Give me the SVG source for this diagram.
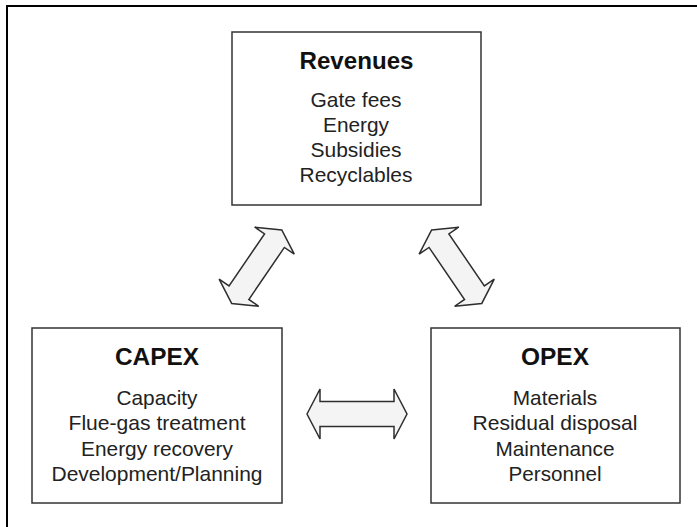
<svg xmlns="http://www.w3.org/2000/svg" xmlns:xlink="http://www.w3.org/1999/xlink" width="697" height="527" viewBox="0 0 697 527">
<style>
.box{fill:#ffffff;stroke:#333333;stroke-width:1.5}
.ttl{font-family:"Liberation Sans",Arial,Helvetica,sans-serif;font-weight:bold;font-size:24.5px;fill:#111111;text-anchor:middle}
.itm{font-family:"Liberation Sans",Arial,Helvetica,sans-serif;font-size:21px;fill:#222222;text-anchor:middle}
.arr{fill:#f4f4f4;stroke:#2e2e2e;stroke-width:1.5;stroke-linejoin:miter}
</style>
<defs>
<path id="harrow" d="M-50,0 L-37,-25 L-37,-12.5 L37,-12.5 L37,-25 L50,0 L37,25 L37,12.5 L-37,12.5 L-37,25 Z"/>
<path id="darrow" d="M-44.5,0 L-31.5,-24 L-31.5,-12 L31.5,-12 L31.5,-24 L44.5,0 L31.5,24 L31.5,12 L-31.5,12 L-31.5,24 Z"/>
</defs>
<rect width="697" height="527" fill="#ffffff"/>
<path d="M7,527 V6 H697" fill="none" stroke="#000000" stroke-width="2"/>
<g id="revenues">
<rect class="box" x="232" y="32" width="249" height="173"/>
<text class="ttl" x="356.5" y="69" textLength="114" lengthAdjust="spacingAndGlyphs">Revenues</text>
<text class="itm" x="356" y="107" textLength="91" lengthAdjust="spacingAndGlyphs">Gate fees</text>
<text class="itm" x="356" y="132" textLength="66" lengthAdjust="spacingAndGlyphs">Energy</text>
<text class="itm" x="356" y="157" textLength="91" lengthAdjust="spacingAndGlyphs">Subsidies</text>
<text class="itm" x="356" y="182" textLength="113" lengthAdjust="spacingAndGlyphs">Recyclables</text>
</g>
<g id="capex">
<rect class="box" x="32" y="328" width="250" height="175"/>
<text class="ttl" x="157" y="365" textLength="84" lengthAdjust="spacingAndGlyphs">CAPEX</text>
<text class="itm" x="157" y="405" textLength="81" lengthAdjust="spacingAndGlyphs">Capacity</text>
<text class="itm" x="157" y="430" textLength="177" lengthAdjust="spacingAndGlyphs">Flue-gas treatment</text>
<text class="itm" x="157" y="455.5" textLength="152" lengthAdjust="spacingAndGlyphs">Energy recovery</text>
<text class="itm" x="157" y="481" textLength="211" lengthAdjust="spacingAndGlyphs">Development/Planning</text>
</g>
<g id="opex">
<rect class="box" x="431" y="328" width="249" height="175"/>
<text class="ttl" x="555" y="365" textLength="68" lengthAdjust="spacingAndGlyphs">OPEX</text>
<text class="itm" x="555" y="405" textLength="84.5" lengthAdjust="spacingAndGlyphs">Materials</text>
<text class="itm" x="555" y="430" textLength="165" lengthAdjust="spacingAndGlyphs">Residual disposal</text>
<text class="itm" x="555" y="455.5" textLength="119" lengthAdjust="spacingAndGlyphs">Maintenance</text>
<text class="itm" x="555" y="481" textLength="93" lengthAdjust="spacingAndGlyphs">Personnel</text>
</g>
<g id="connectors">
<use class="arr" xlink:href="#darrow" href="#darrow" transform="translate(256.7,266.7) rotate(-55.7)"/>
<use class="arr" xlink:href="#darrow" href="#darrow" transform="translate(456.7,266.7) rotate(55.7)"/>
<use class="arr" xlink:href="#harrow" href="#harrow" transform="translate(357,414)"/>
</g>
</svg>
